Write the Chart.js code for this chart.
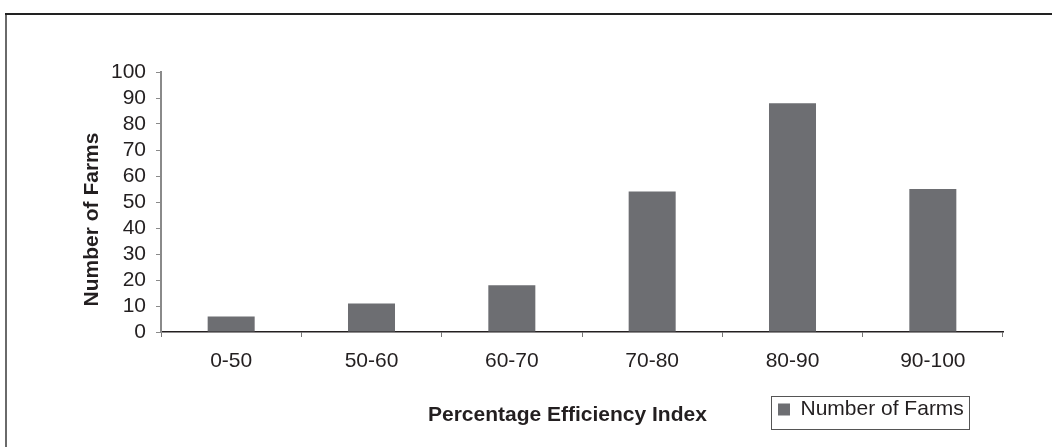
<!DOCTYPE html>
<html><head><meta charset="utf-8">
<script src="https://cdn.jsdelivr.net/npm/chart.js@4.4.1/dist/chart.umd.min.js"></script>
<style>html,body{margin:0;padding:0;background:#fff;overflow:hidden}canvas{display:block}</style>
</head><body>
<canvas id="c" width="1052" height="447" style="width:1052px;height:447px"></canvas>
<script>
const categories = ['0-50', '50-60', '60-70', '70-80', '80-90', '90-100'];
const farms = [6, 11, 18, 54, 88, 55];
const seriesLabel = 'Number of Farms';
const yMin = 0;
const yMax = 100;
const yStep = 10;
const xTitle = 'Percentage Efficiency Index';
const yTitle = 'Number of Farms';

const FONT = "'Liberation Sans', Arial, Helvetica, sans-serif";
const TEXT = '#231f20';

const framePlugin = {
  id: 'frame',
  beforeDraw(chart) {
    const ctx = chart.ctx;
    ctx.save();
    ctx.fillStyle = '#fff';
    ctx.fillRect(0, 0, chart.width, chart.height);
    ctx.lineWidth = 2;
    ctx.strokeStyle = '#6a6a6a';
    ctx.beginPath(); ctx.moveTo(6, 13); ctx.lineTo(6, chart.height); ctx.stroke();
    ctx.strokeStyle = '#222';
    ctx.beginPath(); ctx.moveTo(5, 14); ctx.lineTo(chart.width, 14); ctx.stroke();
    ctx.restore();
  },
  afterLayout(chart) {
    const lg = chart.legend;
    if (!lg) return;
    const w = lg.width, h = lg.height;
    lg.left = 771; lg.top = 392;
    lg.right = lg.left + w; lg.bottom = lg.top + h;
  },
  afterDraw(chart) {
    const lg = chart.legend;
    if (!lg) return;
    const ctx = chart.ctx;
    ctx.save();
    ctx.strokeStyle = '#555';
    ctx.lineWidth = 1;
    ctx.strokeRect(lg.left + 0.5, 396.5, 198, 33);
    ctx.restore();
  }
};

new Chart(document.getElementById('c'), {
  type: 'bar',
  data: {
    labels: categories,
    datasets: [{
      label: seriesLabel,
      data: farms,
      backgroundColor: '#6d6e72',
      borderWidth: 0,
      categoryPercentage: 1,
      barPercentage: 0.335
    }]
  },
  options: {
    responsive: false,
    animation: false,
    devicePixelRatio: 1,
    layout: { padding: { left: 74, right: 49, top: 72, bottom: 0 } },
    plugins: {
      tooltip: { enabled: false },
      legend: {
        position: 'chartArea',
        align: 'start',
        labels: {
          boxWidth: 12, boxHeight: 12, padding: 7,
          color: TEXT,
          font: { family: FONT, size: 21 }
        }
      }
    },
    scales: {
      x: {
        afterFit(s) { s.height = 115; },
        border: { display: true, color: '#231f20', width: 1.5 },
        grid: { display: true, drawOnChartArea: false, drawTicks: true, tickLength: 5, color: '#777', offset: true },
        ticks: { color: TEXT, font: { family: FONT, size: 21 }, padding: 12, maxRotation: 0, autoSkip: false },
        title: {
          display: true,
          text: xTitle + '     ',
          color: TEXT,
          font: { family: FONT, size: 21, weight: 'bold' },
          padding: { top: 0, bottom: 19 }
        }
      },
      y: {
        min: yMin, max: yMax,
        afterFit(s) { s.width = 87; },
        border: { display: true, color: '#8a8a8a', width: 2 },
        grid: { display: true, drawOnChartArea: false, drawTicks: true, tickLength: 5, color: '#8a8a8a' },
        ticks: { stepSize: yStep, autoSkip: false, color: TEXT, font: { family: FONT, size: 21 }, padding: 10 },
        title: {
          display: true,
          text: yTitle + '      ',
          color: TEXT,
          font: { family: FONT, size: 21, weight: 'bold' },
          padding: { top: 6, bottom: 0 }
        }
      }
    }
  },
  plugins: [framePlugin]
});
</script>
</body></html>
